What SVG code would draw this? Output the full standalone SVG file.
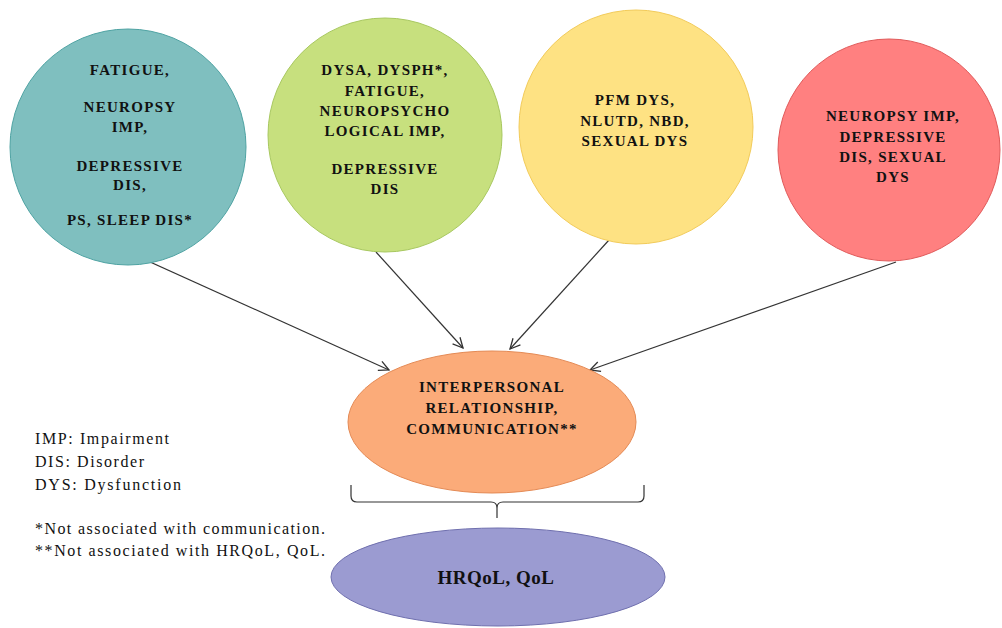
<svg xmlns="http://www.w3.org/2000/svg" width="1002" height="628" viewBox="0 0 1002 628">
  <style>
    .lbl { font-family: "Liberation Serif", "Times New Roman", serif; font-weight: bold; font-size: 15px; letter-spacing: 1.3px; fill: #111; text-anchor: middle; }
    .big { font-size: 19px; letter-spacing: 0.5px; }
    .key { font-family: "Liberation Serif", "Times New Roman", serif; font-size: 16px; fill: #111; }
    .conn { stroke: #333; stroke-width: 1.2; fill: none; }
  </style>
  <defs>
    <marker id="arrow" viewBox="0 0 12 12" refX="11" refY="6" markerWidth="12" markerHeight="12" markerUnits="userSpaceOnUse" orient="auto">
      <path d="M1,1 L11,6 L1,11" fill="none" stroke="#333" stroke-width="1.3"/>
    </marker>
  </defs>
  <rect width="1002" height="628" fill="#ffffff"/>

  <g id="connectors">
    <line class="conn" x1="128" y1="252" x2="389" y2="370" marker-end="url(#arrow)"/>
    <line class="conn" x1="376" y1="252" x2="463" y2="348" marker-end="url(#arrow)"/>
    <line class="conn" x1="609" y1="240" x2="510" y2="349" marker-end="url(#arrow)"/>
    <line class="conn" x1="896" y1="262" x2="590" y2="370" marker-end="url(#arrow)"/>
    <!-- curly brace under the interpersonal node -->
    <path class="conn" d="M351,485 L351,496 Q351,502 357,502 L491,502 Q497,502 497,508 L497,518 M497,508 Q497,502 503,502 L638,502 Q644,502 644,496 L644,485"/>
  </g>

  <g id="node-fatigue">
    <circle cx="128" cy="147" r="118" fill="#7fbfbf" stroke="#4fa3a3" stroke-width="1"/>
    <text class="lbl" x="130" y="75">FATIGUE,</text>
    <text class="lbl" x="130" y="112">NEUROPSY</text>
    <text class="lbl" x="130" y="132">IMP,</text>
    <text class="lbl" x="130" y="171">DEPRESSIVE</text>
    <text class="lbl" x="130" y="190">DIS,</text>
    <text class="lbl" x="130" y="225">PS, SLEEP DIS*</text>
  </g>

  <g id="node-dysarthria">
    <circle cx="385" cy="135" r="117" fill="#c7e07e" stroke="#a8c860" stroke-width="1"/>
    <text class="lbl" x="385" y="75">DYSA, DYSPH*,</text>
    <text class="lbl" x="385" y="96">FATIGUE,</text>
    <text class="lbl" x="385" y="116">NEUROPSYCHO</text>
    <text class="lbl" x="385" y="136">LOGICAL IMP,</text>
    <text class="lbl" x="385" y="174">DEPRESSIVE</text>
    <text class="lbl" x="385" y="194">DIS</text>
  </g>

  <g id="node-pelvic">
    <circle cx="636" cy="127" r="117" fill="#fee283" stroke="#f2cb5a" stroke-width="1"/>
    <text class="lbl" x="635" y="105">PFM DYS,</text>
    <text class="lbl" x="635" y="126">NLUTD, NBD,</text>
    <text class="lbl" x="635" y="146">SEXUAL DYS</text>
  </g>

  <g id="node-sexual">
    <circle cx="889" cy="150" r="111" fill="#ff8080" stroke="#e05a5a" stroke-width="1"/>
    <text class="lbl" x="893" y="121">NEUROPSY IMP,</text>
    <text class="lbl" x="893" y="142">DEPRESSIVE</text>
    <text class="lbl" x="893" y="162">DIS, SEXUAL</text>
    <text class="lbl" x="893" y="182">DYS</text>
  </g>

  <g id="node-interpersonal">
    <ellipse cx="492" cy="422" rx="144" ry="71" fill="#fbab79" stroke="#e48a55" stroke-width="1"/>
    <text class="lbl" x="492" y="392">INTERPERSONAL</text>
    <text class="lbl" x="492" y="413">RELATIONSHIP,</text>
    <text class="lbl" x="492" y="434">COMMUNICATION**</text>
  </g>

  <g id="node-qol">
    <ellipse cx="498" cy="577" rx="167" ry="49" fill="#9b9bd1" stroke="#6f6fae" stroke-width="1"/>
    <text class="lbl big" x="496" y="584">HRQoL, QoL</text>
  </g>

  <g id="legend">
    <text class="key" x="35" y="444" textLength="134" lengthAdjust="spacing">IMP: Impairment</text>
    <text class="key" x="35" y="467" textLength="109" lengthAdjust="spacing">DIS: Disorder</text>
    <text class="key" x="35" y="490" textLength="146" lengthAdjust="spacing">DYS: Dysfunction</text>
    <text class="key" x="35" y="534" textLength="290" lengthAdjust="spacing">*Not associated with communication.</text>
    <text class="key" x="35" y="556" textLength="290" lengthAdjust="spacing">**Not associated with HRQoL, QoL.</text>
  </g>
</svg>
